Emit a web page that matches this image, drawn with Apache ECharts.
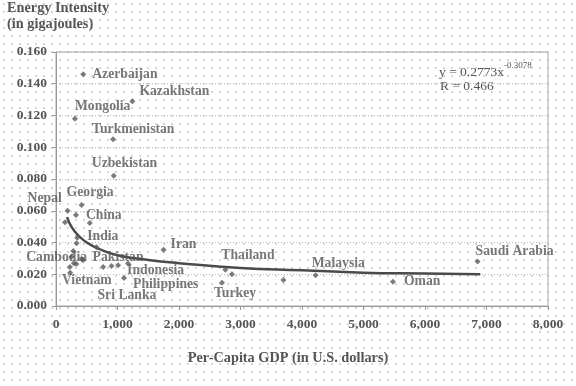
<!DOCTYPE html>
<html><head><meta charset="utf-8">
<script src="https://cdn.jsdelivr.net/npm/echarts@6/dist/echarts.min.js"></script>
<style>
html,body{margin:0;padding:0;background:#fff}
#c{width:576px;height:386px;background-image:radial-gradient(#d4d4d4 0.7px, transparent 0.9px);background-size:8px 8px}
</style>
</head><body><div id="c"></div>
<script>
// ---- data ----
const countries = ['Azerbaijan','Kazakhstan','Mongolia','Turkmenistan','Uzbekistan','Nepal','Georgia','China','India','Cambodia','Pakistan','Vietnam','Indonesia','Sri Lanka','Philippines','Iran','Thailand','Turkey','Malaysia','Oman','Saudi Arabia',
  '','','','','','','','','','','','',''];
const gdp = [442,1242,308,928,939,189,416,324,345,280,416,227,1010,902,1106,1749,2753,2699,4222,5479,6855,
  550,146,335,659,766,1171,2861,3698,254,290,440,230,330];
const intensity = [0.146,0.129,0.118,0.105,0.082,0.060,0.0636,0.0573,0.043,0.0346,0.0298,0.0246,0.0256,0.0252,0.0177,0.0354,0.0229,0.0146,0.0194,0.0152,0.0281,
  0.0523,0.0527,0.0396,0.037,0.0246,0.0267,0.020,0.0163,0.031,0.027,0.0288,0.021,0.0265];
const trendGdp = [180,250,350,500,700,1000,1500,2000,3000,4000,5000,6000,6900];
const trendIntensity = [0.056,0.050,0.045,0.040,0.036,0.032,0.029,0.027,0.024,0.0225,0.021,0.0205,0.020];

// ---- label placement (style) ----
const labelOffsets = {
  'Azerbaijan':[9,0],'Kazakhstan':[7,-10],'Mongolia':[0,-12],'Turkmenistan':[-21,-10],'Uzbekistan':[-22,-12],
  'Nepal':[-40,-12],'Georgia':[-15,-13],'China':[10,0],'India':[10,-1],'Cambodia':[-47,6],'Pakistan':[11,-1],
  'Vietnam':[-8,14],'Indonesia':[9,5],'Sri Lanka':[-14,29],'Philippines':[9,7],'Iran':[7,-5],'Thailand':[-4,-14],
  'Turkey':[-8,11],'Malaysia':[-4,-12],'Oman':[11,0],'Saudi Arabia':[-2,-10]
};

const FONT = 'Liberation Serif';
const TXT = '#555';

const points = gdp.map((x,i)=>{
  const name = countries[i];
  const item = {value:[x, intensity[i]], name:name};
  if (name) {
    item.label = {show:true, offset: labelOffsets[name] || [6,0]};
  }
  return item;
});
const trend = trendGdp.map((x,i)=>[x, trendIntensity[i]]);

const chart = echarts.init(document.getElementById('c'), null, {renderer:'canvas'});
chart.setOption({
  animation:false,
  backgroundColor:'transparent',
  grid:{left:56, right:28, top:52, bottom:80, show:true, borderColor:'#a8a8a8', borderWidth:1, backgroundColor:'transparent'},
  xAxis:{
    type:'value', min:0, max:8000, interval:1000,
    axisLine:{show:true, onZero:false, lineStyle:{color:'#999', width:1}},
    axisTick:{show:true, length:4, lineStyle:{color:'#999'}},
    axisLabel:{margin:12, color:TXT, fontFamily:FONT, fontWeight:'bold', fontSize:13.5,
      formatter:v=>v.toLocaleString('en-US')},
    splitLine:{show:false}
  },
  yAxis:{
    type:'value', min:0, max:0.16, interval:0.02,
    axisLine:{show:true, lineStyle:{color:'#999', width:1}},
    axisTick:{show:true, length:4, lineStyle:{color:'#999'}},
    axisLabel:{margin:9, color:TXT, fontFamily:FONT, fontWeight:'bold', fontSize:13.5,
      formatter:v=>v.toFixed(3)},
    splitLine:{show:true, lineStyle:{color:'#b8b8b8', type:[1,2], width:1}}
  },
  series:[
    {
      type:'line', data:trend, smooth:true, showSymbol:false, symbol:'none',
      lineStyle:{color:'#4a4a4a', width:2.5}, z:3, silent:true
    },
    {
      type:'scatter', data:points, symbol:'diamond', symbolSize:6,
      itemStyle:{color:'#5a5a5a'}, z:4,
      label:{show:false, position:['50%','50%'], align:'left', verticalAlign:'middle',
        formatter:p=>p.name, color:TXT, fontFamily:FONT, fontWeight:'bold', fontSize:13.7,
        textBorderWidth:0}
    }
  ],
  graphic:[
    {type:'text', left:7, top:1, style:{text:'Energy Intensity', font:'bold 14.3px "Liberation Serif"', fill:TXT}},
    {type:'text', left:7, top:17, style:{text:'(in gigajoules)', font:'bold 14.3px "Liberation Serif"', fill:TXT}},
    {type:'text', left:439, top:65, style:{text:'y = 0.2773x', font:'13.5px "Liberation Serif"', fill:TXT}},
    {type:'text', left:504, top:61, style:{text:'-0.3078', font:'9px "Liberation Serif"', fill:TXT}},
    {type:'text', left:440, top:79, style:{text:'R = 0.466', font:'13.5px "Liberation Serif"', fill:TXT}},
    {type:'text', left:'center', top:351, style:{text:'Per-Capita GDP (in U.S. dollars)', font:'bold 14.3px "Liberation Serif"', fill:TXT}}
  ]
});
</script>
</body></html>
